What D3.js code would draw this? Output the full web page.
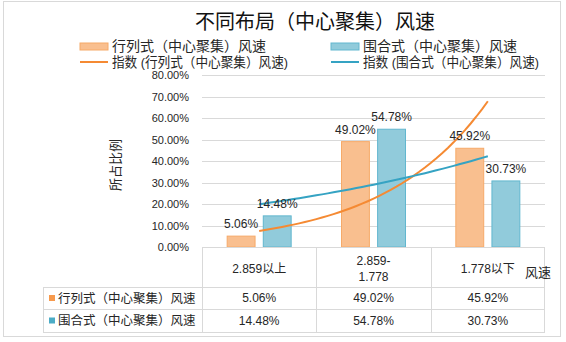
<!DOCTYPE html>
<html>
<head>
<meta charset="utf-8">
<script src="https://cdn.jsdelivr.net/npm/d3@7"></script>
<style>
  body { margin: 0; background: #fff; }
  text { font-family: "Liberation Sans", "Noto Sans CJK SC", sans-serif; fill: #262626; }
</style>
</head>
<body>
<div id="chart"></div>
<script>
// 数据
const categories = ['2.859以上', '2.859-\n1.778', '1.778以下'];
const seriesNames = ['行列式（中心聚集）风速', '围合式（中心聚集）风速'];
const hanglie = [0.0506, 0.4902, 0.4592];
const weihe = [0.1448, 0.5478, 0.3073];
const yTicks = [0, 0.1, 0.2, 0.3, 0.4, 0.5, 0.6, 0.7, 0.8];

const W = 566, H = 342;
const fills = ['#f9bf8f', '#91cbdb'];
const edges = ['#f6aa69', '#62b7cf'];
const trendColors = ['#f58a33', '#35a3c3'];
const grid = '#d9d9d9';

const svg = d3.select('#chart').append('svg')
  .attr('width', W).attr('height', H);

// 外框
svg.append('rect')
  .attr('x', 3.5).attr('y', 1.5).attr('width', 557).attr('height', 335)
  .attr('fill', '#fff').attr('stroke', grid);

// 标题
svg.append('text')
  .attr('x', 315).attr('y', 29)
  .attr('text-anchor', 'middle')
  .style('font-size', '20px')
  .style('fill', '#111')
  .text('不同布局（中心聚集）风速');

// 比例尺
const x0 = d3.scaleBand().domain(categories).range([202, 545]);
const bw = x0.bandwidth();
const x1 = d3.scaleBand().domain(seriesNames)
  .range([bw / 2 - 32.5, bw / 2 + 32.5]).paddingInner(0.2);
const y = d3.scaleLinear().domain([0, 0.8]).range([247, 75]);
const xt = d3.scaleLinear().domain([1, 3])
  .range([x0(categories[0]) + bw / 2, x0(categories[2]) + bw / 2]);

// 网格线
svg.append('g').selectAll('line')
  .data(yTicks.slice(1))
  .enter().append('line')
  .attr('x1', 202).attr('x2', 545)
  .attr('y1', d => Math.round(y(d)) + 0.5).attr('y2', d => Math.round(y(d)) + 0.5)
  .attr('stroke', grid).attr('stroke-width', 1);

// y轴标签
svg.append('g').selectAll('text')
  .data(yTicks)
  .enter().append('text')
  .attr('x', 189).attr('y', d => y(d) + 4)
  .attr('text-anchor', 'end')
  .style('font-size', '11px')
  .text(d => d3.format('.2%')(d));

svg.append('text')
  .attr('transform', 'translate(120,165) rotate(-90)')
  .attr('text-anchor', 'middle')
  .style('font-size', '13px')
  .text('所占比例');

// 柱子
const allSeries = [hanglie, weihe];
allSeries.forEach((vals, si) => {
  const g = svg.append('g');
  g.selectAll('rect')
    .data(vals)
    .enter().append('rect')
    .attr('x', (d, i) => x0(categories[i]) + x1(seriesNames[si]) + 0.5)
    .attr('y', d => y(d))
    .attr('width', x1.bandwidth() - 1)
    .attr('height', d => y(0) - y(d))
    .attr('fill', fills[si])
    .attr('stroke', edges[si])
    .attr('stroke-width', 1);
});

// 指数趋势线（对 ln(y) 做最小二乘）
function expFit(vals) {
  const xs = vals.map((d, i) => i + 1);
  const ls = vals.map(d => Math.log(d));
  const mx = d3.mean(xs), ml = d3.mean(ls);
  const b = d3.sum(xs, (xv, i) => (xv - mx) * (ls[i] - ml)) / d3.sum(xs, xv => (xv - mx) ** 2);
  const a = Math.exp(ml - b * mx);
  return xv => a * Math.exp(b * xv);
}
const line = d3.line().x(d => xt(d[0])).y(d => y(d[1]));
allSeries.forEach((vals, si) => {
  const f = expFit(vals);
  const pts = d3.range(1, 3.001, 0.05).map(xv => [xv, f(xv)]);
  svg.append('path')
    .datum(pts)
    .attr('d', line)
    .attr('fill', 'none')
    .attr('stroke', trendColors[si])
    .attr('stroke-width', 2);
});

// 数据标签
allSeries.forEach((vals, si) => {
  svg.append('g').selectAll('text')
    .data(vals)
    .enter().append('text')
    .attr('x', (d, i) => x0(categories[i]) + x1(seriesNames[si]) + x1.bandwidth() / 2)
    .attr('y', d => y(d) - 8)
    .attr('text-anchor', 'middle')
    .style('font-size', '12px')
    .text(d => d3.format('.2%')(d));
});

// 图例
const legend = svg.append('g');
const legX = [80, 331];
seriesNames.forEach((name, si) => {
  legend.append('rect')
    .attr('x', legX[si]).attr('y', 43)
    .attr('width', 28).attr('height', 7)
    .attr('fill', fills[si]).attr('stroke', edges[si]);
  legend.append('text')
    .attr('x', legX[si] + 32).attr('y', 51)
    .style('font-size', '14px')
    .text(name);
  legend.append('line')
    .attr('x1', legX[si]).attr('x2', legX[si] + 28)
    .attr('y1', 62).attr('y2', 62)
    .attr('stroke', trendColors[si]).attr('stroke-width', 2);
  legend.append('text')
    .attr('x', legX[si] + 32).attr('y', 66.5)
    .attr('textLength', 176)
    .attr('lengthAdjust', 'spacingAndGlyphs')
    .style('font-size', '13.5px')
    .text('指数 (' + name + ')');
});

// 数据表
const table = svg.append('g');
const rowY = [247, 287, 309, 332];
const tl = (x1_, y1_, x2_, y2_) => table.append('line')
  .attr('x1', x1_).attr('y1', y1_).attr('x2', x2_).attr('y2', y2_)
  .attr('stroke', grid).attr('stroke-width', 1);
tl(202, 247.5, 545, 247.5);
tl(43, 287.5, 545, 287.5);
tl(43, 309.5, 545, 309.5);
tl(43, 332.5, 545, 332.5);
tl(43.5, 287, 43.5, 333);
categories.forEach((c, i) => tl(Math.round(x0(c)) + 0.5, 247, Math.round(x0(c)) + 0.5, 333));
tl(544.5, 247, 544.5, 333);

categories.forEach(c => {
  const lines = c.split('\n');
  const cx = x0(c) + bw / 2;
  lines.forEach((t, li) => {
    table.append('text')
      .attr('x', cx)
      .attr('y', 273 + (li - (lines.length - 1) / 2) * 16)
      .attr('text-anchor', 'middle')
      .style('font-size', '12px')
      .text(t);
  });
});

table.append('text')
  .attr('x', 525).attr('y', 277)
  .style('font-size', '13px')
  .text('风速');

allSeries.forEach((vals, si) => {
  const cy = (rowY[si + 1] + rowY[si + 2]) / 2;
  table.append('rect')
    .attr('x', 49).attr('y', cy - 3)
    .attr('width', 6).attr('height', 6)
    .attr('fill', si === 0 ? '#f79a4d' : '#4bacc6');
  table.append('text')
    .attr('x', 58).attr('y', cy + 4.5)
    .style('font-size', '12.5px')
    .text(seriesNames[si]);
  table.selectAll(null)
    .data(vals)
    .enter().append('text')
    .attr('x', (d, i) => x0(categories[i]) + bw / 2)
    .attr('y', cy + 4)
    .attr('text-anchor', 'middle')
    .style('font-size', '12px')
    .text(d => d3.format('.2%')(d));
});
</script>
</body>
</html>
